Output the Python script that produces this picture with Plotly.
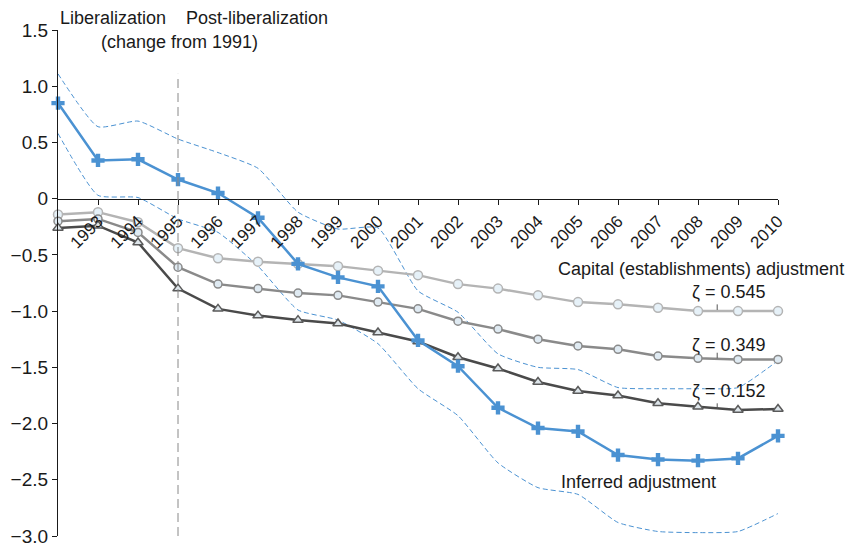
import plotly.graph_objects as go

years = list(range(1992, 2011))
tick_years = list(range(1993, 2011))

inferred = [0.85, 0.34, 0.35, 0.17, 0.05, -0.17, -0.58, -0.70, -0.78, -1.26, -1.49,
            -1.86, -2.04, -2.07, -2.28, -2.32, -2.33, -2.31, -2.11]
inferred_upper = [1.11, 0.64, 0.69, 0.53, 0.41, 0.27, -0.12, -0.27, -0.26, -0.82, -1.01,
                  -1.38, -1.50, -1.52, -1.68, -1.69, -1.69, -1.68, -1.44]
inferred_lower = [0.58, 0.03, 0.01, -0.18, -0.30, -0.60, -0.99, -1.08, -1.29, -1.69, -1.93,
                  -2.35, -2.57, -2.63, -2.88, -2.96, -2.97, -2.96, -2.80]
zeta_0545 = [-0.14, -0.12, -0.21, -0.44, -0.53, -0.56, -0.58, -0.60, -0.64, -0.68, -0.76,
             -0.80, -0.86, -0.92, -0.94, -0.97, -1.00, -1.00, -1.00]
zeta_0349 = [-0.20, -0.18, -0.30, -0.61, -0.76, -0.80, -0.84, -0.86, -0.92, -0.98, -1.09,
             -1.16, -1.25, -1.31, -1.34, -1.40, -1.42, -1.43, -1.43]
zeta_0152 = [-0.26, -0.24, -0.39, -0.80, -0.98, -1.04, -1.08, -1.11, -1.19, -1.27, -1.41,
             -1.51, -1.63, -1.71, -1.75, -1.82, -1.85, -1.88, -1.87]

y_ticks = [1.5, 1.0, 0.5, 0, -0.5, -1.0, -1.5, -2.0, -2.5, -3.0]
y_ticktext = ["1.5", "1.0", "0.5", "0", "\u22120.5", "\u22121.0", "\u22121.5",
              "\u22122.0", "\u22122.5", "\u22123.0"]

BLUE = "#4b92d2"
FONT = "Liberation Sans, Arial, sans-serif"
TXT = "#1a1a1a"

fig = go.Figure()

for band in (inferred_upper, inferred_lower):
    fig.add_trace(go.Scatter(x=years, y=band, mode="lines",
                             line=dict(color=BLUE, width=1, dash="5px,3px", shape="spline", smoothing=0.5),
                             cliponaxis=False, showlegend=False, hoverinfo="skip"))

fig.add_trace(go.Scatter(x=years, y=zeta_0545, mode="lines+markers",
                         line=dict(color="#b4b4b4", width=2.5),
                         marker=dict(symbol="circle", size=9, color="#e6f1f8",
                                     line=dict(color="#b4b4b4", width=1.5)),
                         cliponaxis=False, showlegend=False))
fig.add_trace(go.Scatter(x=years, y=zeta_0349, mode="lines+markers",
                         line=dict(color="#8a8a8a", width=2.5),
                         marker=dict(symbol="circle", size=8, color="#dfeaf2",
                                     line=dict(color="#8a8a8a", width=1.5)),
                         cliponaxis=False, showlegend=False))
fig.add_trace(go.Scatter(x=years, y=zeta_0152, mode="lines+markers",
                         line=dict(color="#4a4a4a", width=2.5),
                         marker=dict(symbol="triangle-up", size=9, color="#dde5ea",
                                     line=dict(color="#5a5a5a", width=1.5)),
                         cliponaxis=False, showlegend=False))
fig.add_trace(go.Scatter(x=years, y=inferred, mode="lines+markers",
                         line=dict(color=BLUE, width=2.5),
                         marker=dict(symbol="cross", size=11, color=BLUE),
                         cliponaxis=False, showlegend=False))

# vertical separator at 1995
fig.add_shape(type="line", x0=1995, x1=1995, y0=-3.0, y1=1.11, xref="x", yref="y",
              line=dict(color="#888888", width=1, dash="9px,5px"))
# small leader ticks below the zeta labels
for yv in (-0.94, -1.37, -1.82):
    fig.add_shape(type="line", x0=2008.48, x1=2008.48, y0=yv, y1=yv - 0.05, xref="x", yref="y",
                  line=dict(color="#555555", width=1))

anns = [
    dict(x=0.0764, y=1.0237, text="Liberalization", xanchor="center"),
    dict(x=0.1694, y=0.9763, text="(change from 1991)", xanchor="center"),
    dict(x=0.2764, y=1.0237, text="Post-liberalization", xanchor="center"),
    dict(x=1.0944, y=0.5277, text="Capital (establishments) adjustment", xanchor="right"),
    dict(x=0.986, y=0.4822, text="\u03b6 = 0.545", xanchor="right"),
    dict(x=0.986, y=0.3775, text="\u03b6 = 0.349", xanchor="right"),
    dict(x=0.986, y=0.2866, text="\u03b6 = 0.152", xanchor="right"),
    dict(x=0.8056, y=0.1067, text="Inferred adjustment", xanchor="center"),
]
for a in anns:
    fig.add_annotation(x=a["x"], y=a["y"], text=a["text"], xanchor=a["xanchor"], yanchor="middle",
                       showarrow=False, xref="paper", yref="paper",
                       font=dict(family=FONT, size=18, color=TXT))

fig.update_layout(
    width=856, height=545,
    margin=dict(l=50, r=86, t=22, b=17, autoexpand=False),
    paper_bgcolor="white", plot_bgcolor="white",
    font=dict(family=FONT, size=17, color=TXT),
    xaxis=dict(range=[1992, 2010], tickmode="array", tickvals=tick_years,
               ticktext=[str(y) for y in tick_years], tickangle=-45,
               showgrid=False, zeroline=False, showline=True, linecolor=TXT, linewidth=1.2,
               ticks="outside", ticklen=5, tickcolor=TXT,
               anchor="free", position=3.0 / 4.5,
               tickfont=dict(family=FONT, size=17, color=TXT)),
    yaxis=dict(range=[-3.0, 1.5], tickmode="array", tickvals=y_ticks, ticktext=y_ticktext,
               showgrid=False, zeroline=False, showline=True, linecolor=TXT, linewidth=1.2,
               ticks="outside", ticklen=5, tickcolor=TXT,
               tickfont=dict(family=FONT, size=19, color=TXT)),
)

fig.write_html("out.html")
